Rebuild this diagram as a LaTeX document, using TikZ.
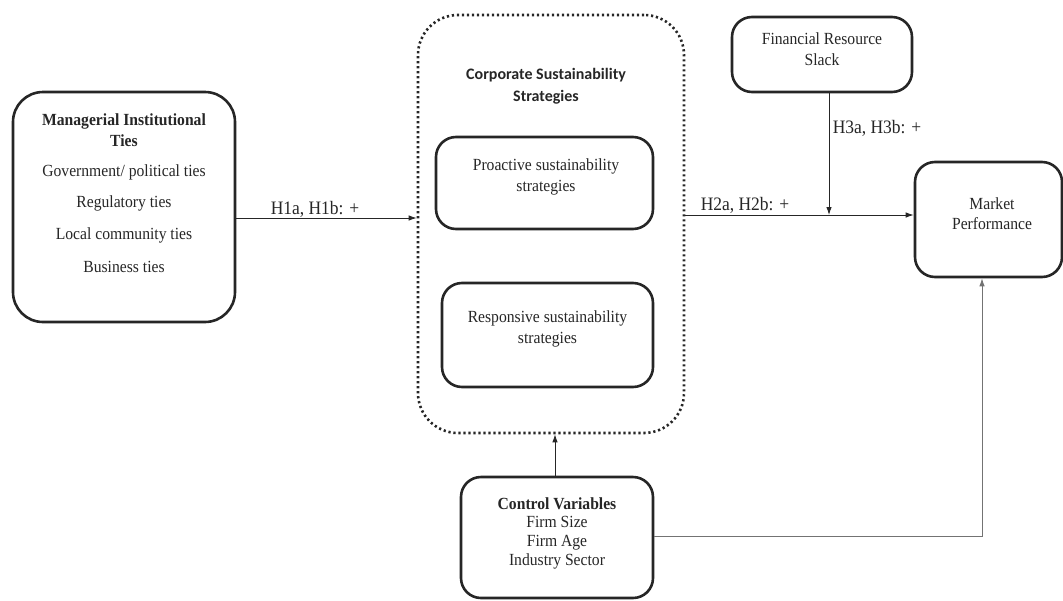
\documentclass[tikz,border=0pt]{standalone}
\usepackage{fontspec}
\setmainfont[FakeStretch=0.92]{Liberation Serif}
\newfontfamily\headfont{Carlito}
\usetikzlibrary{arrows.meta}
\begin{document}
\begin{tikzpicture}[x=1pt,y=-1pt,
  box/.style={draw=black!85,line width=2.6pt,rounded corners=20pt,inner sep=0pt},
  dotbox/.style={draw=black!85,line width=2.6pt,dash pattern=on 2.2pt off 2.8pt,rounded corners=40pt,inner sep=0pt},
  txt/.style={font=\fontsize{17}{20.5}\selectfont,align=center,inner sep=0pt,text=black!85},
  lbl/.style={font=\fontsize{19}{22}\selectfont,inner sep=0pt,text=black!85},
  conn/.style={line width=0.9pt,draw=black!85,-{Latex[length=8pt,width=5.5pt]}},
  gconn/.style={line width=0.9pt,draw=black!55,-{Latex[length=8pt,width=5.5pt]}}]
\useasboundingbox (0,0) rectangle (1063,600);
% boxes
\node[box,minimum width=222pt,minimum height=230pt,rounded corners=30pt] (mit) at (124,207) {};
\node[dotbox,minimum width=266pt,minimum height=418pt] (css) at (551,224) {};
\node[box,minimum width=217pt,minimum height=92pt] (pro) at (544.5,183) {};
\node[box,minimum width=211pt,minimum height=104pt] (resp) at (547.5,335) {};
\node[box,minimum width=180pt,minimum height=75pt] (fin) at (822,54.5) {};
\node[box,minimum width=147pt,minimum height=115pt] (mkt) at (988.5,219.5) {};
\node[box,minimum width=192pt,minimum height=121pt] (ctrl) at (557,537.5) {};
% texts
\node[txt,font=\fontsize{17}{21}\selectfont\bfseries] (mitT) at (124,130) {Managerial Institutional\\Ties};
\node[txt] (mit1) at (124,172) {Government/ political ties};
\node[txt] (mit2) at (124,203) {Regulatory ties};
\node[txt] (mit3) at (124,235) {Local community ties};
\node[txt] (mit4) at (124,267) {Business ties};
\node[txt,font=\headfont\bfseries\fontsize{16}{22}\selectfont] (cssT) at (546,86) {Corporate Sustainability\\Strategies};
\node[txt] (proT) at (546,177) {Proactive sustainability\\strategies};
\node[txt] (respT) at (547.5,329) {Responsive sustainability\\strategies};
\node[txt] (finT) at (822,49) {Financial Resource\\Slack};
\node[txt] (mktT) at (992,213.5) {Market\\Performance};
\node[txt,font=\fontsize{17}{18.7}\selectfont] (ctrlT) at (557,533) {\textbf{Control Variables}\\Firm Size\\Firm Age\\Industry Sector};
% connectors
\coordinate (h1) at (0,218);
\coordinate (h2) at (0,215);
\coordinate (mod) at (829,215);
\coordinate (cx) at (555,0);
\coordinate (cy) at (0,536);
\coordinate (mx) at (982,0);
\draw[conn] (mit.east |- h1) -- (css.west |- h1);
\draw[conn] (css.east |- h2) -- (mkt.west |- h2);
\draw[conn] (fin.south -| mod) -- (mod);
\draw[conn] (ctrl.north -| cx) -- (css.south -| cx);
\draw[gconn] (ctrl.east |- cy) -| (mkt.south -| mx);
% labels
\node[lbl] (l1) at (315,209) {H1a, H1b: +};
\node[lbl] (l2) at (745,205) {H2a, H2b: +};
\node[lbl] (l3) at (877,128) {H3a, H3b: +};
\end{tikzpicture}
\end{document}
